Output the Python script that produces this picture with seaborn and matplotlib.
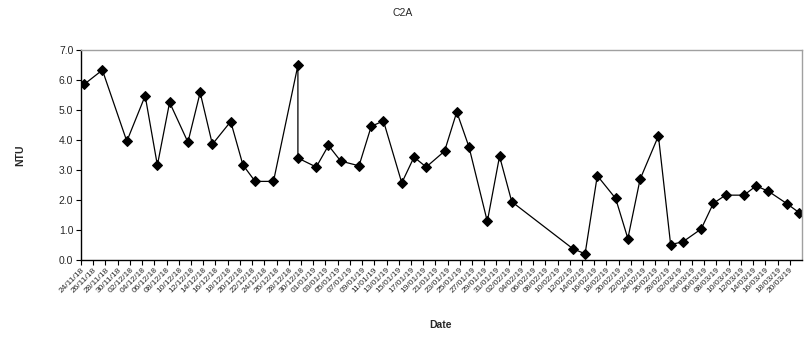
import matplotlib
matplotlib.use("Agg")
import matplotlib.pyplot as plt
import matplotlib.dates as mdates
import seaborn as sns
import pandas as pd
import numpy as np

dates = ["2018-11-24", "2018-11-27", "2018-12-01", "2018-12-04", "2018-12-06", "2018-12-08",
         "2018-12-11", "2018-12-13", "2018-12-15", "2018-12-18", "2018-12-20", "2018-12-22",
         "2018-12-25", "2018-12-29", "2018-12-29", "2019-01-01", "2019-01-03", "2019-01-05",
         "2019-01-08", "2019-01-10", "2019-01-12", "2019-01-15", "2019-01-17", "2019-01-19",
         "2019-01-22", "2019-01-24", "2019-01-26", "2019-01-29", "2019-01-31", "2019-02-02",
         "2019-02-12", "2019-02-14", "2019-02-16", "2019-02-19", "2019-02-21", "2019-02-23",
         "2019-02-26", "2019-02-28", "2019-03-02", "2019-03-05", "2019-03-07", "2019-03-09",
         "2019-03-12", "2019-03-14", "2019-03-16", "2019-03-19", "2019-03-21"]
ntu = [5.85, 6.33, 3.95, 5.47, 3.15, 5.25,
       3.92, 5.58, 3.85, 4.61, 3.16, 2.61,
       2.61, 6.49, 3.39, 3.09, 3.81, 3.29,
       3.13, 4.45, 4.63, 2.56, 3.42, 3.09,
       3.62, 4.93, 3.76, 1.27, 3.45, 1.93,
       0.36, 0.19, 2.80, 2.04, 0.70, 2.68,
       4.13, 0.50, 0.59, 1.02, 1.88, 2.15,
       2.15, 2.46, 2.28, 1.87, 1.57]
y_ticks = [0, 1, 2, 3, 4, 5, 6, 7]
axis_start = "2018-11-24"
axis_end = "2019-03-21"

sns.set_theme(style="white")
plt.rcParams["font.family"] = ["Liberation Sans", "DejaVu Sans"]

df = pd.DataFrame({"Date": pd.to_datetime(dates), "NTU": ntu})

fig = plt.figure(figsize=(8.05, 3.5), dpi=100)
ax = fig.add_axes([81 / 805, 1 - 259.5 / 350, (802 - 81) / 805, (259.5 - 50) / 350])

sns.lineplot(data=df, x="Date", y="NTU", estimator=None, sort=False, ax=ax,
             color="black", linewidth=0.9, marker="D", markersize=4.8,
             markeredgecolor="black", markerfacecolor="black")

start = pd.Timestamp(axis_start)
end = pd.Timestamp(axis_end)
half = pd.Timedelta(hours=12)
ax.set_xlim(mdates.date2num(start - half), mdates.date2num(end + half))
tick_days = pd.date_range(start, end - pd.Timedelta(days=1), freq="2D")
ax.set_xticks([mdates.date2num(d - half) for d in tick_days])
ax.set_xticklabels([d.strftime("%d/%m/%y") for d in tick_days], rotation=45,
                   ha="right", rotation_mode="anchor", fontsize=6)

ax.set_ylim(0, 7)
ax.set_yticks(y_ticks)
ax.set_yticklabels([f"{v:.1f}" for v in y_ticks], fontsize=7.5)

ax.tick_params(axis="both", direction="out", length=3.5, width=0.8, color="black",
               bottom=True, left=True, pad=2)
ax.tick_params(axis="x", pad=1.5)
for s in ["left", "bottom"]:
    ax.spines[s].set_color("black")
    ax.spines[s].set_linewidth(1.0)
for s in ["top", "right"]:
    ax.spines[s].set_color("#a0a0a0")
    ax.spines[s].set_linewidth(1.0)
ax.grid(False)
ax.set_xlabel("")
ax.set_ylabel("")

fig.text(403 / 805, 1 - 13 / 350, "C2A", ha="center", va="center", fontsize=7.5)
fig.text(440 / 805, 1 - 325 / 350, "Date", ha="center", va="center", fontsize=7.5,
         fontweight="bold")
fig.text(20 / 805, 1 - 155 / 350, "NTU", ha="center", va="center", fontsize=7.5,
         fontweight="bold", rotation=90)

fig.savefig("out.png", dpi=100, facecolor="white")
